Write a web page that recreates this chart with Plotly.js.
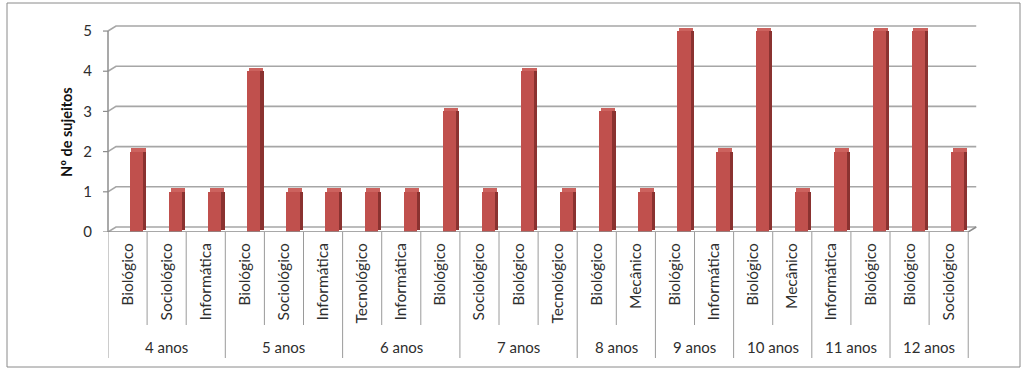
<!DOCTYPE html>
<html>
<head>
<meta charset="utf-8">
<script src="https://cdn.plot.ly/plotly-3.0.1.min.js"></script>
<style>
  html, body { margin: 0; padding: 0; background: #fff; }
  #chart { width: 1022px; height: 369px; }
</style>
</head>
<body>
<div id="chart"></div>
<script>
// ---- data ----
const groups = ['4 anos', '5 anos', '6 anos', '7 anos', '8 anos', '9 anos', '10 anos', '11 anos', '12 anos'];
const groupSizes = [3, 3, 3, 3, 2, 2, 2, 2, 2];
const categories = ['Biológico', 'Sociológico', 'Informática',
                    'Biológico', 'Sociológico', 'Informática',
                    'Tecnológico', 'Informática', 'Biológico',
                    'Sociológico', 'Biológico', 'Tecnológico',
                    'Biológico', 'Mecânico',
                    'Biológico', 'Informática',
                    'Biológico', 'Mecânico',
                    'Informática', 'Biológico',
                    'Biológico', 'Sociológico'];
const values = [2, 1, 1, 4, 1, 1, 1, 1, 3, 1, 4, 1, 3, 1, 5, 2, 5, 1, 2, 5, 5, 2];
const yTicks = [0, 1, 2, 3, 4, 5];
const yTitle = 'Nº de sujeitos';

// ---- layout geometry ----
const W = 1022, H = 369;
const L = 108, R = 44, T = 23, B = 137;
const plotW = W - L - R, plotH = H - T - B;
const xRange = [-0.5, 21.75];
const yRange = [0, 5.2];
const depthX = 8, depthY = 5;             // 3D back-plane offset in px
const px2paperX = p => (p - L) / plotW;
const px2paperY = p => (H - B - p) / plotH;
const depthXp = depthX / plotW;
const depthYv = depthY * (yRange[1] - yRange[0]) / plotH;
const xMax = categories.length - 0.5;
const xMaxP = (xMax - xRange[0]) / (xRange[1] - xRange[0]);

const idx = categories.map((_, i) => i);
const font = 'Lato, "Open Sans", sans-serif';
const txtColor = '#2e2e2e';
const gridColor = '#A6A6A6';
const axisColor = '#8C8C8C';

// ---- bars (front, side, top faces) ----
const frontFace = {
  type: 'bar', x: idx, y: values, width: 0.34, offset: 0.06,
  marker: { color: '#C0504D', line: { width: 0 } }, hoverinfo: 'y', showlegend: false
};
const sideFace = {
  type: 'bar', x: idx, y: values.map(v => v - depthYv * 0.5), base: values.map(() => depthYv * 0.5),
  width: 0.08, offset: 0.40,
  marker: { color: '#8A3230', line: { width: 0 } }, hoverinfo: 'skip', showlegend: false
};
const topFace = {
  type: 'bar', x: idx, y: values.map(() => depthYv * 0.7), base: values,
  width: 0.36, offset: 0.1,
  marker: { color: '#CC625E', line: { width: 0 } }, hoverinfo: 'skip', showlegend: false
};

// ---- shapes ----
const shapes = [];
// outer border
shapes.push({ type: 'rect', xref: 'paper', yref: 'paper',
  x0: px2paperX(7), x1: px2paperX(1020), y0: px2paperY(367), y1: px2paperY(3),
  line: { color: '#8A8A8A', width: 1 }, fillcolor: 'rgba(0,0,0,0)', layer: 'below' });
// gridlines on back plane with diagonal to the axis
yTicks.forEach(v => {
  const vb = v + depthYv;
  shapes.push({ type: 'path', xref: 'paper', yref: 'y',
    path: `M 0,${v} L ${depthXp},${vb} L ${xMaxP + depthXp},${vb}`,
    line: { color: gridColor, width: 1.6 }, layer: 'below' });
  // tick mark
  shapes.push({ type: 'line', xref: 'paper', yref: 'y',
    x0: -5 / plotW, x1: 0, y0: v, y1: v, line: { color: axisColor, width: 1.2 } });
});
// y axis line
shapes.push({ type: 'line', xref: 'paper', yref: 'y', x0: 0, x1: 0, y0: 0, y1: yTicks[yTicks.length - 1],
  line: { color: axisColor, width: 1.5 } });
// front floor edge + right diagonal
shapes.push({ type: 'path', xref: 'paper', yref: 'y',
  path: `M 0,0 L ${xMaxP},0 L ${xMaxP + depthXp},${depthYv}`,
  line: { color: axisColor, width: 1.5 } });
// category dividers
const innerBottom = px2paperY(325), groupBottom = px2paperY(358);
const groupBounds = new Set();
let acc = 0;
groupBounds.add(-0.5);
groupSizes.forEach(s => { acc += s; groupBounds.add(acc - 0.5); });
for (let i = 0; i <= categories.length; i++) {
  const xv = i - 0.5;
  const isGroup = groupBounds.has(xv);
  shapes.push({ type: 'line', xref: 'x', yref: 'paper', x0: xv, x1: xv,
    y0: 0, y1: isGroup ? groupBottom : innerBottom,
    line: { color: '#9A9A9A', width: 1 } });
}

// ---- annotations ----
const annotations = [];
acc = 0;
groups.forEach((g, k) => {
  const c = acc + (groupSizes[k] - 1) / 2;
  acc += groupSizes[k];
  annotations.push({ text: g, xref: 'x', yref: 'paper', x: c, y: px2paperY(347),
    showarrow: false, xanchor: 'center', yanchor: 'middle',
    font: { family: font, size: 15, color: txtColor } });
});
annotations.push({ text: '<b>' + yTitle + '</b>', xref: 'paper', yref: 'paper',
  x: px2paperX(66), y: px2paperY(132), textangle: -90, showarrow: false,
  xanchor: 'center', yanchor: 'middle', font: { family: font, size: 14.5, color: '#111' } });

const layout = {
  width: W, height: H,
  margin: { l: L, r: R, t: T, b: B, pad: 0 },
  paper_bgcolor: 'rgba(0,0,0,0)', plot_bgcolor: 'rgba(0,0,0,0)',
  barmode: 'overlay', bargap: 0,
  showlegend: false,
  xaxis: {
    range: xRange, tickmode: 'array', tickvals: idx, ticktext: categories,
    tickangle: -90, ticks: '', showgrid: false, zeroline: false, showline: false,
    ticklabelstandoff: 7,
    tickfont: { family: font, size: 15.5, color: txtColor }, fixedrange: true
  },
  yaxis: {
    range: yRange, tickmode: 'array', tickvals: yTicks, ticktext: yTicks.map(String),
    ticks: '', showgrid: false, zeroline: false, showline: false,
    ticklabelstandoff: 15,
    tickfont: { family: font, size: 15, color: txtColor }, fixedrange: true
  },
  shapes: shapes,
  annotations: annotations
};

Plotly.newPlot('chart', [sideFace, frontFace, topFace], layout, { displayModeBar: false, staticPlot: true });
</script>
</body>
</html>
